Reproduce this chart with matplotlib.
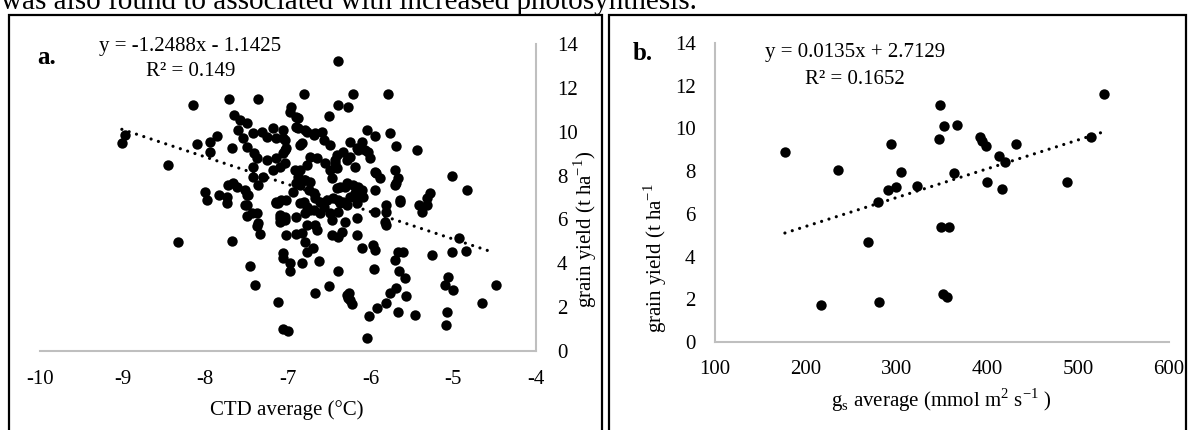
import numpy as np
import matplotlib
matplotlib.use("Agg")
import matplotlib.pyplot as plt
from matplotlib.patches import Rectangle

plt.rcParams['font.family'] = ['Liberation Serif', 'DejaVu Serif']
plt.rcParams['mathtext.fontset'] = 'custom'
plt.rcParams['mathtext.rm'] = 'Liberation Serif'
plt.rcParams['axes.unicode_minus'] = False

# panel a: canopy temperature depression vs grain yield
ctd_avg = [
    -9.01, -8.97, -8.45, -8.33, -8.15, -8.10, -7.94, -7.86, -7.94, -7.68,
    -7.71, -7.36, -6.81, -7.65, -7.58, -7.50, -7.60, -7.54, -7.42, -7.49,
    -7.41, -7.32, -7.26, -7.18, -7.14, -7.06, -7.02, -6.96, -6.98, -6.90,
    -6.88, -6.83, -6.77, -8.00, -7.98, -7.84, -7.74, -7.72, -7.62, -7.50,
    -7.50, -7.42, -7.42, -7.36, -7.30, -7.38, -7.26, -7.18, -7.14, -7.10,
    -7.04, -6.88, -6.85, -6.79, -7.14, -7.08, -6.21, -5.79, -6.39, -6.27,
    -6.51, -6.79, -6.69, -6.59, -6.57, -6.49, -6.85, -6.25, -6.11, -6.05,
    -5.95, -5.77, -5.69, -5.44, -6.33, -6.25, -6.15, -6.07, -6.01, -6.19,
    -6.73, -6.65, -6.77, -6.55, -6.49, -6.41, -6.43, -5.95, -5.89, -5.71,
    -5.67, -5.71, -5.02, -4.83, -5.28, -5.32, -5.42, -5.32, -5.65, -5.95,
    -6.41, -6.31, -6.21, -6.15, -6.09, -6.17, -6.25, -6.33, -6.45, -6.53,
    -6.61, -6.81, -6.73, -6.85, -6.75, -6.67, -6.81, -7.68, -7.74, -7.52,
    -7.44, -7.50, -7.38, -7.34, -7.46, -7.40, -7.12, -7.06, -7.00, -7.14,
    -7.10, -7.04, -7.10, -7.02, -6.90, -6.77, -6.79, -6.77, -7.06, -7.06,
    -6.98, -6.98, -6.83, -6.73, -6.85, -6.67, -6.51, -6.39, -6.63, -6.70,
    -6.67, -6.65, -6.83, -6.47, -6.47, -6.39, -6.35, -6.31, -6.17, -6.17,
    -6.11, -5.97, -5.95, -5.96, -6.26, -6.27, -6.22, -6.05, -6.02, -5.92,
    -5.82, -5.77, -5.69, -5.57, -5.67, -5.46, -5.70, -5.66, -5.59, -5.61,
    -5.82, -5.83, -5.95, -5.26, -5.02, -4.93, -4.85, -5.06, -5.10, -5.01,
    -5.08, -5.09, -4.65, -4.48, -5.65, -5.38, -6.40, -6.88, -6.90, -6.67,
    -6.17, -6.03, -6.29, -6.41, -6.43, -6.47, -6.37, -6.29, -6.11, -6.19,
    -6.39, -6.49, -6.39, -7.06, -7.04, -7.06, -7.04, -6.92, -6.90, -6.69,
    -6.79, -6.90, -7.04, -7.02, -6.94, -7.66, -7.52, -7.48, -7.38, -7.36,
    -7.12, -7.10, -5.93, -5.69, -5.81, -5.82, -6.77, -6.69, -6.61, -6.57,
    -6.37, -6.29, -6.17, -5.67, -6.29, -6.25,
]
yield_a = [
    9.47, 9.85, 8.48, 4.98, 11.22, 9.44, 9.54, 9.82, 9.09, 9.24,
    11.49, 11.48, 11.70, 10.76, 10.53, 10.38, 10.10, 9.70, 9.92, 9.30,
    9.05, 10.00, 9.77, 10.15, 9.70, 9.70, 9.24, 11.14, 10.90, 10.68,
    10.15, 9.47, 10.00, 7.26, 6.89, 7.11, 7.04, 7.57, 7.49, 7.11,
    6.66, 8.40, 7.95, 7.57, 7.95, 8.79, 8.71, 8.25, 8.79, 8.40,
    9.17, 7.95, 7.57, 7.80, 6.81, 6.89, 11.70, 11.70, 11.22, 11.11,
    10.72, 10.08, 9.85, 10.00, 9.62, 9.39, 9.39, 9.54, 9.54, 10.10,
    9.80, 9.95, 9.35, 9.17, 9.09, 8.86, 9.17, 9.17, 8.79, 8.40,
    8.86, 8.79, 8.48, 8.56, 8.25, 8.33, 8.71, 8.18, 7.87, 8.25,
    7.87, 7.57, 7.98, 7.34, 7.22, 6.96, 6.66, 6.66, 6.89, 7.34,
    7.42, 7.49, 7.57, 7.49, 7.04, 7.11, 7.04, 6.81, 6.96, 6.89,
    6.81, 7.80, 7.72, 8.25, 7.34, 6.96, 6.81, 5.03, 6.76, 6.66,
    6.28, 6.16, 5.70, 5.32, 3.89, 3.01, 2.25, 1.00, 0.91, 6.73,
    6.20, 6.12, 5.90, 5.29, 5.33, 5.75, 4.98, 4.53, 4.45, 4.22,
    4.00, 3.66, 4.00, 6.43, 6.73, 2.66, 2.96, 3.66, 4.10, 4.68,
    5.75, 5.52, 5.37, 5.97, 5.29, 5.21, 5.44, 5.90, 6.05, 5.29,
    4.68, 4.83, 4.61, 3.73, 2.66, 2.40, 2.13, 0.61, 1.60, 1.95,
    2.20, 2.66, 2.86, 2.51, 1.79, 1.64, 4.15, 3.65, 3.31, 4.50,
    5.75, 5.90, 6.35, 4.38, 4.53, 5.14, 4.57, 3.36, 3.01, 2.78,
    1.76, 1.19, 2.17, 3.01, 6.81, 6.35, 13.22, 10.64, 10.20, 9.92,
    9.24, 9.09, 8.71, 8.94, 8.56, 7.87, 7.49, 7.64, 7.34, 7.19,
    6.89, 6.28, 6.35, 10.08, 9.62, 9.01, 8.56, 8.25, 7.64, 7.19,
    6.28, 6.12, 5.97, 6.89, 7.26, 7.64, 7.34, 7.11, 6.28, 5.82,
    6.73, 6.05, 8.10, 7.64, 6.66, 6.35, 6.58, 6.43, 6.28, 6.58,
    6.73, 6.66, 6.73, 4.53, 2.55, 2.33,
]
slope_a, icpt_a = -1.2488, -1.1425

# panel b: stomatal conductance vs grain yield
gs_avg = [177, 236, 217, 269, 281, 280, 291, 293.5, 299, 304.5,
          322, 348, 347, 352.5, 367, 349, 358, 351, 356, 363.5,
          392, 393.7, 398, 400, 413, 419, 415.7, 432, 488, 514, 528]
yield_b = [8.90, 8.05, 1.73, 4.67, 1.89, 6.54, 7.12, 9.27, 7.27, 7.97,
           7.30, 11.10, 9.50, 10.11, 10.16, 5.40, 5.40, 2.23, 2.09, 7.93,
           9.61, 9.43, 9.19, 7.49, 8.71, 8.43, 7.15, 9.25, 7.49, 9.58, 11.6]
slope_b, icpt_b = 0.0135, 2.7129

W, H = 1188, 430
fig = plt.figure(figsize=(W / 100, H / 100), dpi=100)

def fx(px):
    return px / W

def fy(py):
    return 1 - py / H

grey = '#BFBFBF'
fs = 15
dot = (0, (0.01, 2.4))

# --- panel a ---
ax = fig.add_axes([fx(40), fy(351), fx(536) - fx(40), fy(44) - fy(351)])
ax.scatter(ctd_avg, yield_a, s=56, color='black', linewidths=0, zorder=3)
xl = np.array([min(ctd_avg), -4.55])
ax.plot(xl, slope_a * xl + icpt_a, color='black', lw=2.3, linestyle=dot,
        dash_capstyle='round', zorder=4)
ax.set_xlim(-10, -4)
ax.set_ylim(0, 14)
ax.set_xticks(np.arange(-10, -3, 1))
ax.set_yticks(np.arange(0, 15, 2))
ax.yaxis.tick_right()
for s in ['top', 'left']:
    ax.spines[s].set_visible(False)
for s in ['bottom', 'right']:
    ax.spines[s].set_color(grey)
    ax.spines[s].set_linewidth(1.5)
ax.tick_params(axis='both', length=0, labelsize=fs)
ax.tick_params(axis='x', pad=14)
ax.tick_params(axis='y', pad=15)
ax.set_facecolor('none')

fig.text(fx(287), fy(410), 'CTD average (°C)', fontsize=fs, ha='center', va='center')
fig.text(fx(585), fy(229), 'grain yield (t ha$^{-1}$)', fontsize=fs, rotation=90,
         ha='center', va='center')
fig.text(fx(37), fy(57), 'a.', fontsize=18, fontweight='bold', ha='left', va='center')
fig.text(fx(190), fy(47), 'y = -1.2488x - 1.1425', fontsize=fs, ha='center', va='center')
fig.text(fx(191), fy(72), 'R² = 0.149', fontsize=fs, ha='center', va='center')

# --- panel b ---
bx = fig.add_axes([fx(715), fy(342), fx(1169) - fx(715), fy(43) - fy(342)])
bx.scatter(gs_avg, yield_b, s=56, color='black', linewidths=0, zorder=3)
xl = np.array([min(gs_avg), 526])
bx.plot(xl, slope_b * xl + icpt_b, color='black', lw=2.3, linestyle=dot,
        dash_capstyle='round', zorder=4)
bx.set_xlim(100, 600)
bx.set_ylim(0, 14)
bx.set_xticks(np.arange(100, 601, 100))
bx.set_yticks(np.arange(0, 15, 2))
for s in ['top', 'right']:
    bx.spines[s].set_visible(False)
for s in ['bottom', 'left']:
    bx.spines[s].set_color(grey)
    bx.spines[s].set_linewidth(1.5)
bx.tick_params(axis='both', length=0, labelsize=fs)
bx.tick_params(axis='x', pad=13)
bx.tick_params(axis='y', pad=14)
bx.set_facecolor('none')

fig.text(fx(941), fy(400), 'g$_{\\mathrm{s}}$ average (mmol m$^{2}$ s$^{-1}$ )', fontsize=fs,
         ha='center', va='center')
fig.text(fx(655), fy(258), 'grain yield (t ha$^{-1}$', fontsize=fs, rotation=90,
         ha='center', va='center')
fig.text(fx(633), fy(53), 'b.', fontsize=18, fontweight='bold', ha='left', va='center')
fig.text(fx(855), fy(53), 'y = 0.0135x + 2.7129', fontsize=fs, ha='center', va='center')
fig.text(fx(855), fy(80), 'R² = 0.1652', fontsize=fs, ha='center', va='center')

# frames around the two panels and the sentence above them
fig.add_artist(Rectangle((fx(9), fy(470)), fx(602) - fx(9), fy(15) - fy(470),
                         transform=fig.transFigure, fill=False, ec='black', lw=1.6))
fig.add_artist(Rectangle((fx(609), fy(470)), fx(1186) - fx(609), fy(15) - fy(470),
                         transform=fig.transFigure, fill=False, ec='black', lw=1.6))
fig.text(fx(1), fy(9), 'was also found to associated with increased photosynthesis.',
         fontsize=21, ha='left', va='baseline')

fig.savefig('out.png', dpi=100)
